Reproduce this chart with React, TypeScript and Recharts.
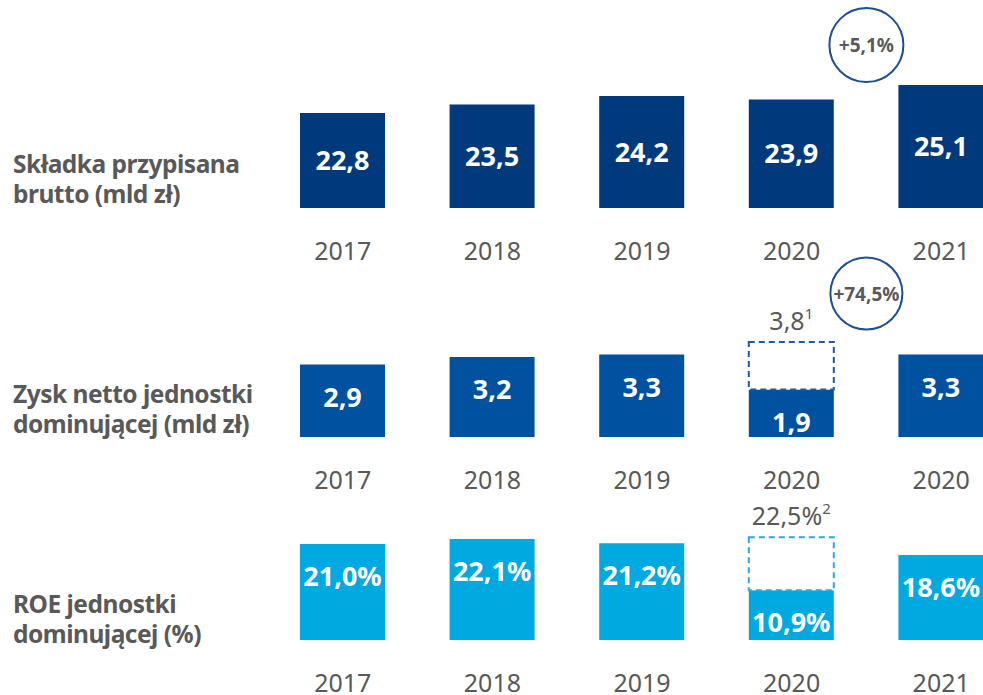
import { Bar, BarChart, LabelList, ReferenceDot, XAxis, YAxis } from "recharts";

// values
const years = ["2017", "2018", "2019", "2020", "2021"];
const profitYears = ["2017", "2018", "2019", "2020", "2020"]; // slide repeats 2020
const grossPremium = [22.8, 23.5, 24.2, 23.9, 25.1];
const netProfit = [2.9, 3.2, 3.3, 1.9, 3.3];
const netProfitAdjusted = [null, null, null, 3.8, null];
const roe = [21.0, 22.1, 21.2, 10.9, 18.6];
const roeAdjusted = [null, null, null, 22.5, null];

const premiumGrowth = "+5,1%";
const profitGrowth = "+74,5%";

const GRAY = "#595959";
const FONT = "'Noto Sans', 'Open Sans', sans-serif";

type Row = {
  year: string;
  pos: number;
  actual: number;
  adjusted: number | null;
  gap: number | null;
};

function buildRows(
  cats: string[],
  actual: number[],
  adjusted?: (number | null)[]
): Row[] {
  return cats.map((year, i) => {
    const adj = adjusted ? adjusted[i] : null;
    return {
      year,
      pos: i,
      actual: actual[i],
      adjusted: adj,
      gap: adj == null ? null : +(adj - actual[i]).toFixed(2),
    };
  });
}

const fmt = (v: number, unit = "") => v.toFixed(1).replace(".", ",") + unit;

type RowProps = {
  data: Row[];
  top: number;
  height: number;
  marginTop: number;
  axisHeight: number;
  domain: [number, number];
  color: string;
  dashColor?: string;
  unit?: string;
  note?: string;
  labelAtTop?: boolean;
  growth?: { text: string; x: number; y: number; r: number };
};

function RowChart(p: RowProps) {
  const unit = p.unit ?? "";
  return (
    <div style={{ position: "absolute", left: 0, top: p.top }}>
      <BarChart
        width={1016}
        height={p.height}
        data={p.data}
        margin={{ top: p.marginTop, right: 0, bottom: 0, left: 268 }}
      >
        <XAxis
          xAxisId="cat"
          dataKey="year"
          interval={0}
          tickLine={false}
          axisLine={false}
          tickSize={0}
          tickMargin={34}
          height={p.axisHeight}
          tick={{ fill: GRAY, fontSize: 25, fontFamily: FONT }}
        />
        {/* hidden index axis: band centres sit on whole numbers */}
        <XAxis
          xAxisId="pos"
          dataKey="pos"
          type="number"
          scale="linear"
          domain={[-0.5, 4.5]}
          allowDataOverflow
          hide
        />
        <YAxis hide domain={p.domain} allowDataOverflow />
        <Bar
          xAxisId="cat"
          dataKey="actual"
          stackId="s"
          fill={p.color}
          barSize={85}
          isAnimationActive={false}
        >
          <LabelList
            dataKey="actual"
            position={p.labelAtTop ? "insideTop" : "center"}
            offset={23}
            fill="#ffffff"
            fontSize={27}
            fontWeight={700}
            fontFamily={FONT}
            formatter={(v: any) => fmt(Number(v), unit)}
          />
        </Bar>
        {p.dashColor && (
          <Bar
            xAxisId="cat"
            dataKey="gap"
            stackId="s"
            fill="#ffffff"
            stroke={p.dashColor}
            strokeWidth={2}
            strokeDasharray="6 4"
            barSize={85}
            isAnimationActive={false}
          >
            <LabelList
              dataKey="adjusted"
              content={(lp: any) => {
                if (lp.value == null) return null;
                const cx = Number(lp.x) + Number(lp.width) / 2;
                const y = Number(lp.y) - 12;
                return (
                  <text
                    x={cx}
                    y={y}
                    textAnchor="middle"
                    fill={GRAY}
                    fontSize={25}
                    fontFamily={FONT}
                  >
                    {fmt(Number(lp.value), unit)}
                    <tspan dy={-11} fontSize={15}>
                      {p.note}
                    </tspan>
                  </text>
                );
              }}
            />
          </Bar>
        )}
        {p.growth && (
          <ReferenceDot
            xAxisId="pos"
            x={p.growth.x}
            y={p.growth.y}
            r={p.growth.r}
            ifOverflow="visible"
            shape={(sp: any) => (
              <g>
                <circle
                  cx={sp.cx}
                  cy={sp.cy}
                  r={p.growth!.r}
                  fill="#ffffff"
                  stroke="#1d4f91"
                  strokeWidth={2}
                />
                <text
                  x={sp.cx}
                  y={sp.cy}
                  textAnchor="middle"
                  dominantBaseline="central"
                  fill={GRAY}
                  fontSize={19}
                  fontWeight={700}
                  fontFamily={FONT}
                >
                  {p.growth!.text}
                </text>
              </g>
            )}
          />
        )}
      </BarChart>
    </div>
  );
}

const rowLabels = [
  { lines: ["Składka przypisana", "brutto (mld zł)"], y: 173 },
  { lines: ["Zysk netto jednostki", "dominującej (mld zł)"], y: 403 },
  { lines: ["ROE jednostki", "dominującej (%)"], y: 613 },
];

export default function App() {
  return (
    <div
      style={{
        position: "fixed",
        left: 0,
        top: 0,
        width: 983,
        height: 695,
        overflow: "hidden",
        background: "#ffffff",
        fontFamily: FONT,
      }}
    >
      <svg
        width={270}
        height={695}
        style={{ position: "absolute", left: 0, top: 0 }}
      >
        {rowLabels.map((r) =>
          r.lines.map((line, i) => (
            <text
              key={line}
              x={13}
              y={r.y + i * 30}
              fill={GRAY}
              fontSize={24.5}
              fontWeight={700}
              letterSpacing={-0.5}
              fontFamily={FONT}
            >
              {line}
            </text>
          ))
        )}
      </svg>

      <RowChart
        data={buildRows(years, grossPremium)}
        top={0}
        height={270}
        marginTop={13}
        axisHeight={62}
        domain={[15, 31]}
        color="#003a7d"
        growth={{ text: premiumGrowth, x: 3.5, y: 28.37, r: 37 }}
      />
      <RowChart
        data={buildRows(profitYears, netProfit, netProfitAdjusted)}
        top={252}
        height={258}
        marginTop={10}
        axisHeight={73}
        domain={[0, 7]}
        color="#0051a0"
        dashColor="#1b5aa6"
        note="1"
        labelAtTop
        growth={{ text: profitGrowth, x: 3.5, y: 5.74, r: 36 }}
      />
      <RowChart
        data={buildRows(years, roe, roeAdjusted)}
        top={495}
        height={200}
        marginTop={8}
        axisHeight={55}
        domain={[0, 30]}
        color="#00a9e0"
        dashColor="#2aa9e0"
        unit="%"
        note="2"
        labelAtTop
      />
    </div>
  );
}
